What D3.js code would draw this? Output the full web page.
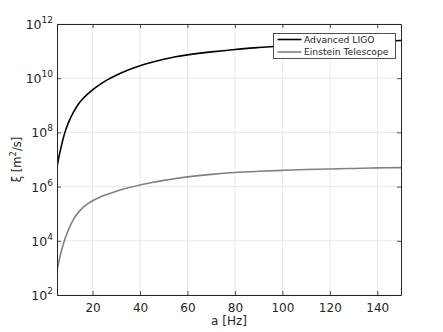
<!DOCTYPE html>
<html><head><meta charset="utf-8">
<script src="https://cdn.jsdelivr.net/npm/d3@7"></script>
<style>body{margin:0;background:#fff}svg{display:block}text{font-family:"DejaVu Sans",sans-serif;fill:#262626}</style>
</head><body><svg id="c" width="443" height="332"></svg>
<script>
const freq = [5,6,7,8,9,10,12,14,16,18,20,23,26,30,35,40,45,50,55,60,70,80,90,100,110,120,130,140,150];
const ligo = [5.25e6,1.51e7,3.63e7,7.94e7,1.48e8,2.51e8,5.75e8,1.10e9,1.78e9,2.63e9,3.72e9,5.75e9,8.51e9,1.29e10,2.0e10,2.88e10,3.89e10,5.01e10,6.17e10,7.24e10,9.33e10,1.15e11,1.35e11,1.55e11,1.74e11,1.95e11,2.14e11,2.29e11,2.45e11];
const et = [7.94e2,2.09e3,4.68e3,9.33e3,1.66e4,2.75e4,6.31e4,1.12e5,1.70e5,2.34e5,3.02e5,4.07e5,5.13e5,6.76e5,9.0e5,1.15e6,1.41e6,1.70e6,2.0e6,2.29e6,2.82e6,3.31e6,3.67e6,3.98e6,4.27e6,4.47e6,4.68e6,4.90e6,5.01e6];
const xTicks = [20,40,60,80,100,120,140];
const yTickExp = [2,4,6,8,10,12];
const seriesNames = ["Advanced LIGO","Einstein Telescope"];
const seriesColors = ["#000000","#808080"];

(function(){
const svg = d3.select("#c");
const L=57, R=401, T=24, B=295;
const x = d3.scaleLinear().domain([5,150]).range([L,R]);
const y = d3.scaleLog().domain([1e2,1e12]).range([B,T]);
const axisColor="#262626", gridColor="#e3e3e3";

svg.append("defs").append("clipPath").attr("id","clip").append("rect")
  .attr("x",L).attr("y",T).attr("width",R-L).attr("height",B-T);

const g = svg.append("g");
g.selectAll(".gx").data(xTicks).join("line")
  .attr("x1",d=>x(d)).attr("x2",d=>x(d)).attr("y1",T).attr("y2",B)
  .attr("stroke",gridColor).attr("stroke-width",0.8);
g.selectAll(".gy").data(yTickExp).join("line")
  .attr("y1",d=>y(Math.pow(10,d))).attr("y2",d=>y(Math.pow(10,d))).attr("x1",L).attr("x2",R)
  .attr("stroke",gridColor).attr("stroke-width",0.8);

const line = (vals)=>d3.line().x((d,i)=>x(freq[i])).y(d=>y(d)).curve(d3.curveCatmullRom.alpha(0.5))(vals);
const pg = svg.append("g").attr("clip-path","url(#clip)");
pg.append("path").attr("d",line(et)).attr("fill","none").attr("stroke",seriesColors[1]).attr("stroke-width",1.6);
pg.append("path").attr("d",line(ligo)).attr("fill","none").attr("stroke",seriesColors[0]).attr("stroke-width",1.6);

const tl=4;
const axB = d3.axisBottom(x).tickValues(xTicks).tickSizeInner(-tl).tickSizeOuter(0).tickPadding(8).tickFormat(d3.format("d"));
const gb = svg.append("g").attr("transform",`translate(0,${B})`).call(axB);
const axT = d3.axisTop(x).tickValues(xTicks).tickSizeInner(-tl).tickSizeOuter(0).tickFormat("");
const gt = svg.append("g").attr("transform",`translate(0,${T})`).call(axT);
const yvals = yTickExp.map(e=>Math.pow(10,e));
const axL = d3.axisLeft(y).tickValues(yvals).tickSizeInner(-tl).tickSizeOuter(0).tickFormat("");
const gl = svg.append("g").attr("transform",`translate(${L},0)`).call(axL);
const axR = d3.axisRight(y).tickValues(yvals).tickSizeInner(-tl).tickSizeOuter(0).tickFormat("");
const gr = svg.append("g").attr("transform",`translate(${R},0)`).call(axR);
[gb,gt,gl,gr].forEach(a=>{
  a.select(".domain").attr("stroke",axisColor).attr("stroke-width",1);
  a.selectAll(".tick line").attr("stroke",axisColor).attr("stroke-width",0.8);
});
gb.selectAll(".tick text").attr("font-size",12).attr("fill",axisColor).attr("font-family","DejaVu Sans");

yTickExp.forEach(e=>{
  const t = svg.append("text").attr("x",L-4).attr("y",y(Math.pow(10,e))+5).attr("text-anchor","end").attr("font-size",12.5);
  t.append("tspan").text("10");
  t.append("tspan").attr("dy",-6).attr("font-size",9).text(e);
});

svg.append("text").attr("x",(L+R)/2).attr("y",325).attr("text-anchor","middle").attr("font-size",12).text("a [Hz]");
const yl = svg.append("text").attr("transform",`translate(21,${(T+B)/2}) rotate(-90)`).attr("text-anchor","middle").attr("font-size",11.5);
yl.append("tspan").text("\u03BE [m");
yl.append("tspan").attr("dy",-5).attr("font-size",8.5).text("2");
yl.append("tspan").attr("dy",5).text("/s]");

const lg = svg.append("g");
lg.append("rect").attr("x",273.5).attr("y",33.5).attr("width",122).attr("height",25)
  .attr("fill","#fff").attr("stroke",axisColor).attr("stroke-width",0.8);
seriesNames.forEach((n,i)=>{
  const yy = 39.5 + i*12.5;
  lg.append("line").attr("x1",277.5).attr("x2",301.5).attr("y1",yy).attr("y2",yy).attr("stroke",seriesColors[i]).attr("stroke-width",1.6);
  lg.append("text").attr("x",304).attr("y",yy+3.3).attr("font-size",9.2).text(n);
});
})();
</script></body></html>
